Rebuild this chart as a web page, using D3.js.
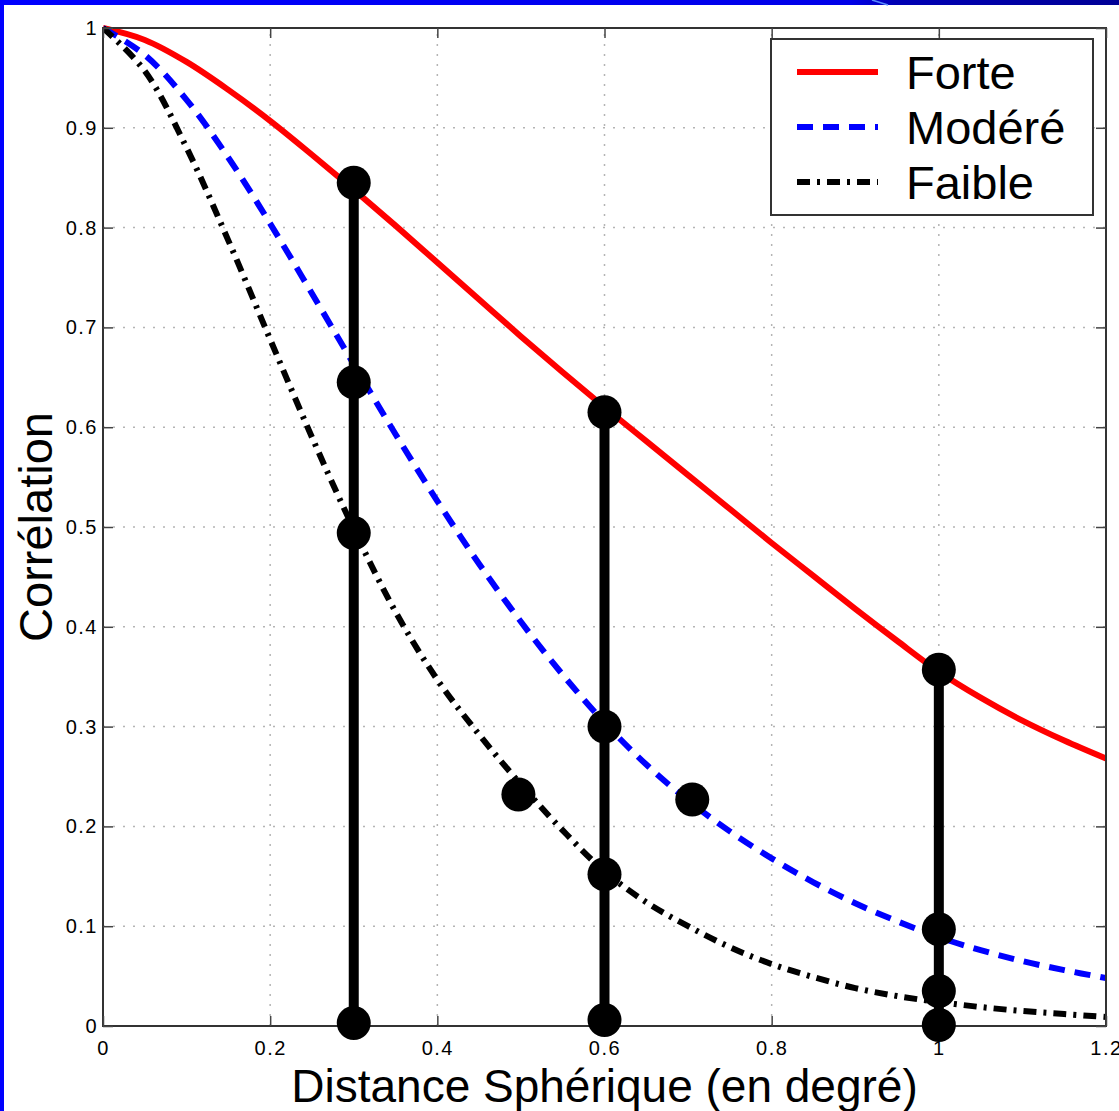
<!DOCTYPE html>
<html>
<head>
<meta charset="utf-8">
<script src="https://cdn.jsdelivr.net/npm/d3@7"></script>
<style>
  body { margin: 0; background: #fff; }
  text { font-family: "Liberation Sans", Arial, sans-serif; fill: #000; }
</style>
</head>
<body>
<div id="chart"></div>
<script>
// distances (degrees) where the curves are read
var distances = [0, 0.05, 0.1, 0.15, 0.2, 0.25, 0.3, 0.35, 0.4, 0.45, 0.5, 0.55, 0.6,
                 0.65, 0.7, 0.75, 0.8, 0.85, 0.9, 0.95, 1.0, 1.05, 1.1, 1.15, 1.2];

// correlation curves
var forte  = [1, 0.988, 0.966, 0.938, 0.907, 0.873, 0.838, 0.802, 0.765, 0.728, 0.691, 0.655, 0.620,
              0.586, 0.552, 0.518, 0.484, 0.451, 0.418, 0.386, 0.355, 0.329, 0.306, 0.286, 0.268];
var modere = [1, 0.973, 0.928, 0.870, 0.804, 0.734, 0.663, 0.593, 0.526, 0.463, 0.405, 0.352, 0.304,
              0.262, 0.226, 0.195, 0.168, 0.144, 0.123, 0.105, 0.089, 0.076, 0.065, 0.056, 0.048];
var faible = [1, 0.957, 0.880, 0.787, 0.688, 0.590, 0.498, 0.415, 0.347, 0.292, 0.242, 0.196, 0.155,
              0.124, 0.100, 0.079, 0.062, 0.049, 0.038, 0.030, 0.024, 0.019, 0.015, 0.012, 0.009];

// vertical bars
var stemX      = [0.3, 0.6, 1.0];
var stemBottom = [0.003, 0.006, 0.001];
var stemTop    = [0.845, 0.615, 0.357];

// black dots
var dotX = [0.3, 0.3, 0.3, 0.3, 0.6, 0.6, 0.6, 0.6, 1.0, 1.0, 1.0, 1.0, 0.497, 0.705];
var dotY = [0.845, 0.645, 0.494, 0.003, 0.615, 0.30, 0.152, 0.006, 0.357, 0.097, 0.035, 0.001, 0.232, 0.227];

var xTicks = [0, 0.2, 0.4, 0.6, 0.8, 1.0, 1.2];
var xTickLabels = ["0", "0.2", "0.4", "0.6", "0.8", "1", "1.2"];
var yTicks = [0, 0.1, 0.2, 0.3, 0.4, 0.5, 0.6, 0.7, 0.8, 0.9, 1];
var yTickLabels = ["0", "0.1", "0.2", "0.3", "0.4", "0.5", "0.6", "0.7", "0.8", "0.9", "1"];

var seriesNames = ["Forte", "Modéré", "Faible"];
var seriesColors = ["#ff0000", "#0000ff", "#000000"];
var seriesDash = ["none", "16,10", "13,7,3,7"];

var W = 1119, H = 1111;
var svg = d3.select("#chart").append("svg").attr("width", W).attr("height", H);

// slide frame
var defs = svg.append("defs");
var grad = defs.append("linearGradient").attr("id", "band");
grad.append("stop").attr("offset", "0%").attr("stop-color", "#0000ff");
grad.append("stop").attr("offset", "76%").attr("stop-color", "#0000e8");
grad.append("stop").attr("offset", "80%").attr("stop-color", "#0000b4");
grad.append("stop").attr("offset", "100%").attr("stop-color", "#000096");
svg.append("rect").attr("x", 0).attr("y", 0).attr("width", W).attr("height", H).style("fill", "#fff");
svg.append("rect").attr("x", 0).attr("y", 0).attr("width", W).attr("height", 5).style("fill", "url(#band)");
svg.append("line").attr("x1", 872).attr("y1", 0).attr("x2", 888).attr("y2", 5)
    .style("stroke", "#5a8cff").style("stroke-width", 1.5);
svg.append("rect").attr("x", 0).attr("y", 0).attr("width", 4).attr("height", H).style("fill", "#0000ff");

var x = d3.scaleLinear().domain([0, 1.2]).range([103, 1106]);
var y = d3.scaleLinear().domain([0, 1]).range([1026, 28]);

// grid
svg.selectAll(".gx").data(xTicks.slice(1, -1)).enter().append("line")
    .attr("x1", function(d) { return x(d); }).attr("x2", function(d) { return x(d); })
    .attr("y1", y(0)).attr("y2", y(1))
    .style("stroke", "#b4b4b4").style("stroke-width", 1.5).style("stroke-dasharray", "2,8");
svg.selectAll(".gy").data(yTicks.slice(1, -1)).enter().append("line")
    .attr("y1", function(d) { return y(d); }).attr("y2", function(d) { return y(d); })
    .attr("x1", x(0)).attr("x2", x(1.2))
    .style("stroke", "#b4b4b4").style("stroke-width", 1.5).style("stroke-dasharray", "2,8");

// curves
var plot = svg.append("g");
plot.append("clipPath").attr("id", "clip").append("rect")
    .attr("x", x(0)).attr("y", y(1) - 4).attr("width", x(1.2) - x(0)).attr("height", y(0) - y(1) + 4);
var line = d3.line()
    .x(function(d) { return x(d[0]); })
    .y(function(d) { return y(d[1]); })
    .curve(d3.curveCatmullRom.alpha(0.5));
[forte, modere, faible].forEach(function(vals, i) {
    var pts = distances.map(function(d, j) { return [d, vals[j]]; });
    plot.append("path").datum(pts)
        .attr("d", line)
        .attr("clip-path", "url(#clip)")
        .style("fill", "none")
        .style("stroke", seriesColors[i])
        .style("stroke-width", 6)
        .style("stroke-dasharray", seriesDash[i]);
});

// axes box + inward ticks
svg.append("rect").attr("x", x(0)).attr("y", y(1))
    .attr("width", x(1.2) - x(0)).attr("height", y(0) - y(1))
    .style("fill", "none").style("stroke", "#333").style("stroke-width", 2);

function styleAxis(g) {
    g.select(".domain").remove();
    g.selectAll(".tick line").style("stroke", "#444").style("stroke-width", 1.5);
    g.selectAll(".tick text")
        .style("font-family", "Liberation Sans, Arial, sans-serif")
        .style("font-size", "20px")
        .style("letter-spacing", "1.5px")
        .style("fill", "#000");
}

svg.append("g").attr("transform", "translate(0," + y(0) + ")")
    .call(d3.axisBottom(x).tickValues(xTicks).tickSize(-10).tickPadding(15)
        .tickFormat(function(d, i) { return xTickLabels[i]; }))
    .call(styleAxis);
svg.append("g").attr("transform", "translate(0," + y(1) + ")")
    .call(d3.axisTop(x).tickValues(xTicks).tickSize(-10).tickFormat(""))
    .call(styleAxis);
svg.append("g").attr("transform", "translate(" + x(0) + ",0)")
    .call(d3.axisLeft(y).tickValues(yTicks).tickSize(-10).tickPadding(5)
        .tickFormat(function(d, i) { return yTickLabels[i]; }))
    .call(styleAxis);
svg.append("g").attr("transform", "translate(" + x(1.2) + ",0)")
    .call(d3.axisRight(y).tickValues(yTicks).tickSize(-10).tickFormat(""))
    .call(styleAxis);

// stems
svg.selectAll(".stem").data(stemX).enter().append("line")
    .attr("x1", function(d) { return x(d); }).attr("x2", function(d) { return x(d); })
    .attr("y1", function(d, i) { return y(stemBottom[i]); })
    .attr("y2", function(d, i) { return y(stemTop[i]); })
    .style("stroke", "#000").style("stroke-width", 10);

// dots
svg.selectAll(".dot").data(dotX).enter().append("circle")
    .attr("cx", function(d) { return x(d); })
    .attr("cy", function(d, i) { return y(dotY[i]); })
    .attr("r", 17)
    .style("fill", "#000");

// axis titles
svg.append("text")
    .attr("x", (x(0) + x(1.2)) / 2).attr("y", 1102)
    .attr("text-anchor", "middle")
    .style("font-size", "46px")
    .text("Distance Sphérique (en degré)");
svg.append("text")
    .attr("transform", "translate(52," + (y(0) + y(1)) / 2 + ") rotate(-90)")
    .attr("text-anchor", "middle")
    .style("font-size", "47px")
    .text("Corrélation");

// legend
var legend = svg.append("g");
legend.append("rect").attr("x", 771).attr("y", 39).attr("width", 322).attr("height", 176)
    .style("fill", "#fff").style("stroke", "#333").style("stroke-width", 2);
seriesNames.forEach(function(name, i) {
    var by = 89 + i * 55;
    legend.append("line")
        .attr("x1", 797).attr("x2", 878).attr("y1", by - 17).attr("y2", by - 17)
        .style("stroke", seriesColors[i]).style("stroke-width", 6)
        .style("stroke-dasharray", seriesDash[i]);
    legend.append("text").attr("x", 906).attr("y", by)
        .style("font-size", "47px").text(name);
});
</script>
</body>
</html>
